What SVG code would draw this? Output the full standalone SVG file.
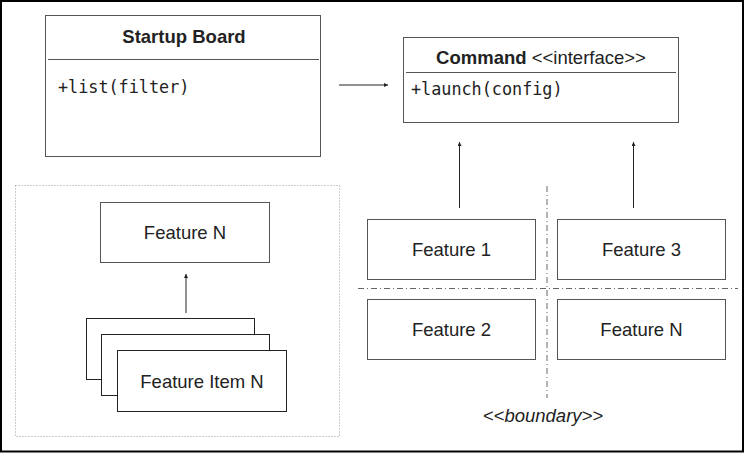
<svg xmlns="http://www.w3.org/2000/svg" width="745" height="453" viewBox="0 0 745 453">
<defs>
<style>
.box{fill:#fff;stroke:#555;stroke-width:1}
.lbl{font-family:"Liberation Sans",Arial,sans-serif;font-size:18.5px;fill:#222;text-anchor:middle}
.mono{font-family:"DejaVu Sans Mono","Liberation Mono",monospace;font-size:16.8px;fill:#222}
.conn{stroke:#222;stroke-width:1;fill:none;marker-end:url(#ah)}
.dd{stroke:#666;stroke-width:1;fill:none;stroke-dasharray:6 3 1 3}
</style>
<marker id="ah" viewBox="0 0 6 6" refX="6" refY="3" markerWidth="4" markerHeight="4" markerUnits="userSpaceOnUse" orient="auto">
<path d="M0,0 L6,3 L0,6 z" fill="#222"/>
</marker>
</defs>
<rect x="0" y="0" width="745" height="453" fill="#fff"/>
<rect x="1" y="1" width="742" height="450.5" fill="none" stroke="#000" stroke-width="2"/>

<rect x="15.5" y="185.5" width="324" height="251" fill="none" stroke="#999" stroke-width="1" stroke-dasharray="1 2"/>

<g id="connectors">
<line class="conn" x1="339" y1="85" x2="388" y2="85"/>
<line class="conn" x1="459.5" y1="208" x2="459.5" y2="142"/>
<line class="conn" x1="633.5" y1="208" x2="633.5" y2="142"/>
<line class="conn" x1="186" y1="313" x2="186" y2="274"/>
</g>

<g id="boundary">
<line class="dd" x1="547" y1="186" x2="547" y2="398"/>
<line class="dd" x1="358" y1="288.5" x2="738" y2="288.5"/>
<text x="543" y="422" class="lbl" style="font-style:italic">&lt;&lt;boundary&gt;&gt;</text>
</g>

<g id="startup-board">
<rect class="box" x="45.5" y="15.5" width="275" height="141"/>
<line x1="48" y1="59.5" x2="319" y2="59.5" stroke="#555" stroke-width="1"/>
<text x="184" y="43" class="lbl" style="font-weight:bold">Startup Board</text>
<text x="58" y="93" class="mono">+list(filter)</text>
</g>

<g id="command">
<rect class="box" x="403.5" y="37.5" width="275" height="85"/>
<line x1="406" y1="72.5" x2="676" y2="72.5" stroke="#555" stroke-width="1"/>
<text x="541" y="64" class="lbl"><tspan style="font-weight:bold">Command</tspan> &lt;&lt;interface&gt;&gt;</text>
<text x="411" y="95" class="mono">+launch(config)</text>
</g>

<g id="feature-1">
<rect class="box" x="367.5" y="219.5" width="168" height="60"/>
<text x="451.5" y="256" class="lbl">Feature 1</text>
</g>
<g id="feature-3">
<rect class="box" x="557.5" y="219.5" width="168" height="60"/>
<text x="641.5" y="256" class="lbl">Feature 3</text>
</g>
<g id="feature-2">
<rect class="box" x="367.5" y="299.5" width="168" height="60"/>
<text x="451.5" y="336" class="lbl">Feature 2</text>
</g>
<g id="feature-n-right">
<rect class="box" x="557.5" y="299.5" width="168" height="60"/>
<text x="641.5" y="336" class="lbl">Feature N</text>
</g>

<g id="feature-n-left">
<rect class="box" x="100.5" y="202.5" width="169" height="60"/>
<text x="185" y="239" class="lbl">Feature N</text>
</g>

<g id="feature-item-n">
<rect class="box" x="86.5" y="318.5" width="168" height="61" style="stroke:#222"/>
<rect class="box" x="101.5" y="334.5" width="168" height="61" style="stroke:#222"/>
<rect class="box" x="117.5" y="350.5" width="169" height="61" style="stroke:#222"/>
<text x="202" y="388" class="lbl">Feature Item N</text>
</g>
</svg>
